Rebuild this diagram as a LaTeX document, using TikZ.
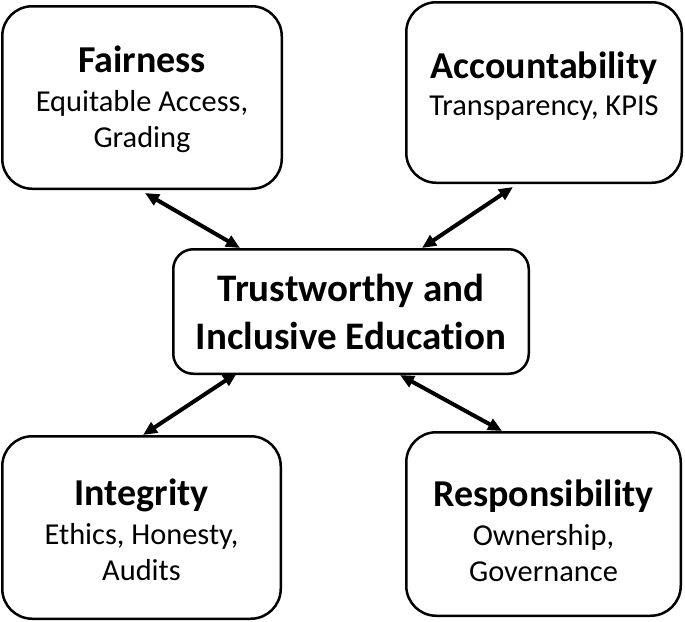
\documentclass[tikz,border=0pt]{standalone}
\usepackage{fontspec}
\setmainfont[Ligatures=NoCommon]{Carlito}
\usetikzlibrary{arrows.meta}
\newcommand{\ttl}[1]{{\bfseries\fontsize{38}{38}\selectfont #1}}
\begin{document}
\begin{tikzpicture}[x=1pt,y=-1pt,
  box/.style={draw=black, line width=2.5pt, rounded corners=30pt, fill=white,
    align=center, inner sep=0pt, font=\fontsize{30.4}{36}\selectfont},
  hub/.style={draw=black, line width=2.5pt, rounded corners=20pt, fill=white,
    align=center, inner sep=0pt, font=\bfseries\fontsize{39}{48}\selectfont},
  link/.style={line width=4pt,
    {Triangle[length=14pt,width=12pt]}-{Triangle[length=14pt,width=12pt]}}
]
\useasboundingbox (0,0) rectangle (685,621);
\node[box, minimum width=279.5pt, minimum height=182.5pt] (fair) at (142,97.5)
  {\rule{0pt}{31pt}\ttl{Fairness}\\[3pt]Equitable Access,\\Grading};
\node[box, minimum width=275.5pt, minimum height=180.5pt] (acc) at (544,92.5)
  {\ttl{Accountability}\\[1pt]Transparency, KPIS\rule[-18pt]{0pt}{0pt}};
\node[hub, minimum width=355.5pt, minimum height=124.5pt] (hub) at (351,311.5)
  {Trustworthy and\\Inclusive Education};
\node[box, minimum width=278.5pt, minimum height=182.5pt] (int) at (141.5,527.5)
  {\rule{0pt}{32pt}\ttl{Integrity}\\[3pt]Ethics, Honesty,\\Audits};
\node[box, minimum width=274.5pt, minimum height=183.5pt] (resp) at (543.5,524)
  {\rule{0pt}{40pt}\ttl{Responsibility}\\[3pt]Ownership,\\Governance};
\draw[link] ([xshift=3pt,yshift=-3pt]fair.south) -- ([xshift=-111pt]hub.north);
\draw[link] ([xshift=-31pt,yshift=-3pt]acc.south) -- ([xshift=71pt]hub.north);
\draw[link] ([xshift=1.5pt]int.north) -- ([xshift=-114pt,yshift=2pt]hub.south);
\draw[link] ([xshift=-41.5pt]resp.north) -- ([xshift=49pt]hub.south);
\end{tikzpicture}
\end{document}
